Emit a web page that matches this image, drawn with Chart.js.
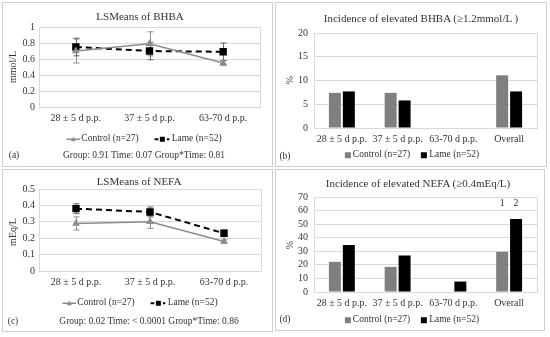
<!DOCTYPE html>
<html>
<head>
<meta charset="utf-8">
<script src="https://cdn.jsdelivr.net/npm/chart.js@4.4.1/dist/chart.umd.min.js"></script>
<style>
  body { margin: 0; width: 550px; height: 337px; background: #fff; position: relative; overflow: hidden;
         font-family: "Liberation Serif", "Times New Roman", serif; color: #333; }
  .frame { position: absolute; border: 1px solid #cfcfcf; box-sizing: border-box; }
  canvas { position: absolute; }
  .t { position: absolute; white-space: nowrap; transform: translate(-50%, -50%); line-height: 1; }
  .title { font-size: 11px; }
  .small { font-size: 9.5px; }
  .rot { transform: translate(-50%, -50%) rotate(-90deg); font-size: 10px; }
  .leg { position: absolute; transform: translate(-50%, -50%); display: flex; align-items: center; white-space: nowrap; font-size: 9.5px; line-height: 1; }
  .leg svg { margin-right: 1px; }
  .sq { display: inline-block; width: 6px; height: 6px; margin-right: 2px; }
</style>
</head>
<body>

<!-- panel frames -->
<div class="frame" style="left:2px;top:2px;width:271px;height:165px"></div>
<div class="frame" style="left:275px;top:2px;width:272px;height:165px"></div>
<div class="frame" style="left:2px;top:169px;width:271px;height:163px"></div>
<div class="frame" style="left:275px;top:169px;width:270px;height:162px"></div>

<canvas id="chart-a" width="271" height="165" style="left:2px;top:2px"></canvas>
<canvas id="chart-b" width="272" height="165" style="left:275px;top:2px"></canvas>
<canvas id="chart-c" width="271" height="163" style="left:2px;top:169px"></canvas>
<canvas id="chart-d" width="270" height="162" style="left:275px;top:169px"></canvas>

<!-- titles -->
<div class="t title" style="left:140px;top:16px">LSMeans of BHBA</div>
<div class="t title" style="left:421px;top:18px">Incidence of elevated BHBA (≥1.2mmol/L )</div>
<div class="t title" style="left:139px;top:181px">LSMeans of NEFA</div>
<div class="t title" style="left:418px;top:183px">Incidence of elevated NEFA (≥0.4mEq/L)</div>

<!-- axis titles -->
<div class="t rot" style="left:13px;top:67px">mmol/L</div>
<div class="t rot" style="left:290px;top:80px">%</div>
<div class="t rot" style="left:13px;top:232px">mEq/L</div>
<div class="t rot" style="left:290px;top:245px">%</div>

<!-- legends -->
<div class="leg" style="left:144px;top:139px">
  <svg width="14" height="8"><line x1="0" y1="4" x2="14" y2="4" stroke="#8c8c8c" stroke-width="1.5"/><polygon points="7,1.5 9.5,6 4.5,6" fill="#8c8c8c"/></svg>
  <span>Control (n=27)</span>
  <span style="width:16px"></span>
  <svg width="16" height="8"><line x1="0" y1="4" x2="4" y2="4" stroke="#000" stroke-width="2"/><rect x="5.5" y="1.5" width="5" height="5" fill="#000"/><line x1="12.5" y1="4" x2="15" y2="4" stroke="#000" stroke-width="2"/></svg>
  <span>Lame (n=52)</span>
</div>
<div class="leg" style="left:140px;top:303px">
  <svg width="14" height="8"><line x1="0" y1="4" x2="14" y2="4" stroke="#8c8c8c" stroke-width="1.5"/><polygon points="7,1.5 9.5,6 4.5,6" fill="#8c8c8c"/></svg>
  <span>Control (n=27)</span>
  <span style="width:16px"></span>
  <svg width="16" height="8"><line x1="0" y1="4" x2="4" y2="4" stroke="#000" stroke-width="2"/><rect x="5.5" y="1.5" width="5" height="5" fill="#000"/><line x1="12.5" y1="4" x2="15" y2="4" stroke="#000" stroke-width="2"/></svg>
  <span>Lame (n=52)</span>
</div>
<div class="leg" style="left:412px;top:155px">
  <span class="sq" style="background:#7f7f7f"></span><span>Control (n=27)</span>
  <span style="width:11px"></span>
  <span class="sq" style="background:#000"></span><span>Lame (n=52)</span>
</div>
<div class="leg" style="left:412px;top:320px">
  <span class="sq" style="background:#7f7f7f"></span><span>Control (n=27)</span>
  <span style="width:11px"></span>
  <span class="sq" style="background:#000"></span><span>Lame (n=52)</span>
</div>

<!-- footers -->
<div class="t small" style="left:14px;top:156px">(a)</div>
<div class="t small" style="left:144px;top:156px">Group: 0.91 Time: 0.07 Group*Time: 0.81</div>
<div class="t small" style="left:285px;top:157px">(b)</div>
<div class="t small" style="left:13px;top:322px">(c)</div>
<div class="t small" style="left:149px;top:322px">Group: 0.02 Time: &lt; 0.0001 Group*Time: 0.86</div>
<div class="t small" style="left:285px;top:320px">(d)</div>

<script>
// catégories
const timePoints = ['28 ± 5 d p.p.', '37 ± 5 d p.p.', '63-70 d p.p.'];
const incidenceCats = ['28 ± 5 d p.p.', '37 ± 5 d p.p.', '63-70 d p.p.', 'Overall'];

// (a) LSMeans BHBA, mmol/L
const bhbaControl = [0.70, 0.79, 0.55];
const bhbaControlErr = [0.15, 0.15, 0.03];
const bhbaLame = [0.75, 0.70, 0.69];
const bhbaLameErr = [0.11, 0.11, 0.11];

// (c) LSMeans NEFA, mEq/L
const nefaControl = [0.29, 0.30, 0.18];
const nefaControlErr = [0.04, 0.04, 0.01];
const nefaLame = [0.38, 0.36, 0.23];
const nefaLameErr = [0.03, 0.03, 0.02];

// (b) incidence BHBA >= 1.2, %
const bhbaIncControl = [7.4, 7.4, 0, 11.1];
const bhbaIncLame = [7.7, 5.8, 0, 7.7];

// (d) incidence NEFA >= 0.4, %
const nefaIncControl = [22.2, 18.5, 0, 29.6];
const nefaIncLame = [34.6, 26.9, 7.7, 53.8];
const overallMarks = ['1', '2'];
const overallMarkLevel = 65;

Chart.defaults.font.family = '"Liberation Serif", "Times New Roman", serif';
Chart.defaults.font.size = 10;
Chart.defaults.color = '#333';
Chart.defaults.animation = false;

const GRID = '#d9d9d9';
const GREY = '#8c8c8c';

// cadre de la zone de tracé
const plotFrame = {
    id: 'plotFrame',
    beforeDatasetsDraw(chart) {
        const a = chart.chartArea;
        const ctx = chart.ctx;
        ctx.save();
        ctx.strokeStyle = GRID;
        ctx.lineWidth = 1;
        ctx.strokeRect(Math.round(a.left) + 0.5, Math.round(a.top) + 0.5, Math.round(a.right - a.left), Math.round(a.bottom - a.top));
        ctx.restore();
    }
};

// barres d'erreur
const errorBars = {
    id: 'errorBars',
    beforeDatasetsDraw(chart, args, opts) {
        const ctx = chart.ctx;
        const x = chart.scales.x, y = chart.scales.y;
        (opts.sets || []).forEach(s => {
            ctx.save();
            ctx.strokeStyle = s.color;
            ctx.lineWidth = 1;
            s.means.forEach((m, i) => {
                const px = Math.round(x.getPixelForValue(i)) + 0.5;
                const top = y.getPixelForValue(m + s.err[i]);
                const bot = y.getPixelForValue(m - s.err[i]);
                ctx.beginPath();
                ctx.moveTo(px, top); ctx.lineTo(px, bot);
                ctx.moveTo(px - 3, top); ctx.lineTo(px + 3, top);
                ctx.moveTo(px - 3, bot); ctx.lineTo(px + 3, bot);
                ctx.stroke();
            });
            ctx.restore();
        });
    }
};

// étiquettes "1" "2" au-dessus de Overall
const overallLabels = {
    id: 'overallLabels',
    afterDatasetsDraw(chart, args, opts) {
        if (!opts.marks) return;
        const ctx = chart.ctx;
        const y = chart.scales.y;
        ctx.save();
        ctx.fillStyle = '#333';
        ctx.font = '10px "Liberation Serif", serif';
        ctx.textAlign = 'center';
        ctx.textBaseline = 'middle';
        opts.marks.forEach((m, i) => {
            const bar = chart.getDatasetMeta(i).data[3];
            ctx.fillText(m, bar.x, y.getPixelForValue(opts.level));
        });
        ctx.restore();
    }
};

function padFor(box, area, xH) {
    return {
        left: 0,
        top: area.t - box.y,
        right: box.x + box.w - area.r,
        bottom: box.y + box.h - area.b - xH
    };
}

const tickText = v => String(Math.round(v * 10) / 10);

function lineChart(id, box, area, yMax, yStep, control, controlErr, lame, lameErr) {
    const ctx = document.getElementById(id).getContext('2d');
    return new Chart(ctx, {
        type: 'line',
        data: {
            labels: timePoints,
            datasets: [
                {
                    label: 'Control (n=27)', data: control,
                    borderColor: GREY, borderWidth: 1.5,
                    pointStyle: 'triangle', pointRadius: 3,
                    pointBackgroundColor: GREY, pointBorderColor: GREY
                },
                {
                    label: 'Lame (n=52)', data: lame,
                    borderColor: '#000', borderWidth: 2, borderDash: [6, 4],
                    pointStyle: 'rect', pointRadius: 3.8,
                    pointBackgroundColor: '#000', pointBorderColor: '#000'
                }
            ]
        },
        options: {
            responsive: false,
            layout: { padding: padFor(box, area, 22) },
            plugins: {
                legend: { display: false },
                tooltip: { enabled: false },
                errorBars: {
                    sets: [
                        { means: control, err: controlErr, color: GREY },
                        { means: lame, err: lameErr, color: '#666' }
                    ]
                }
            },
            scales: {
                x: {
                    offset: true,
                    grid: { display: false, drawTicks: false },
                    border: { display: false },
                    ticks: { padding: 5, maxRotation: 0, autoSkip: false },
                    afterFit: s => { s.height = 22; }
                },
                y: {
                    min: 0, max: yMax,
                    ticks: { stepSize: yStep, padding: 4, autoSkip: false, callback: tickText },
                    grid: { color: GRID, drawTicks: false },
                    border: { display: false },
                    afterFit: s => { s.width = area.l - box.x; }
                }
            }
        },
        plugins: [plotFrame, errorBars]
    });
}

function barChart(id, box, area, yMax, yStep, control, lame, marks) {
    const ctx = document.getElementById(id).getContext('2d');
    return new Chart(ctx, {
        type: 'bar',
        data: {
            labels: incidenceCats,
            datasets: [
                { label: 'Control (n=27)', data: control, backgroundColor: '#7f7f7f', categoryPercentage: 0.5, barPercentage: 0.86 },
                { label: 'Lame (n=52)', data: lame, backgroundColor: '#000', categoryPercentage: 0.5, barPercentage: 0.86 }
            ]
        },
        options: {
            responsive: false,
            layout: { padding: padFor(box, area, 22) },
            plugins: {
                legend: { display: false },
                tooltip: { enabled: false },
                overallLabels: { marks: marks, level: overallMarkLevel }
            },
            scales: {
                x: {
                    grid: { display: false, drawTicks: false },
                    border: { display: false },
                    ticks: { padding: 5, maxRotation: 0, autoSkip: false },
                    afterFit: s => { s.height = 22; }
                },
                y: {
                    min: 0, max: yMax,
                    ticks: { stepSize: yStep, padding: 6, autoSkip: false },
                    grid: { color: GRID, drawTicks: false },
                    border: { display: false },
                    afterFit: s => { s.width = area.l - box.x; }
                }
            }
        },
        plugins: [plotFrame, overallLabels]
    });
}

lineChart('chart-a', { x: 2, y: 2, w: 271, h: 165 }, { l: 39, t: 27, r: 260, b: 107 },
    1, 0.2, bhbaControl, bhbaControlErr, bhbaLame, bhbaLameErr);
barChart('chart-b', { x: 275, y: 2, w: 272, h: 165 }, { l: 314, t: 33, r: 537, b: 128 },
    20, 5, bhbaIncControl, bhbaIncLame, null);
lineChart('chart-c', { x: 2, y: 169, w: 271, h: 163 }, { l: 39, t: 189, r: 261, b: 271 },
    0.5, 0.1, nefaControl, nefaControlErr, nefaLame, nefaLameErr);
barChart('chart-d', { x: 275, y: 169, w: 270, h: 162 }, { l: 314, t: 197, r: 537, b: 292 },
    70, 10, nefaIncControl, nefaIncLame, overallMarks);
</script>
</body>
</html>
